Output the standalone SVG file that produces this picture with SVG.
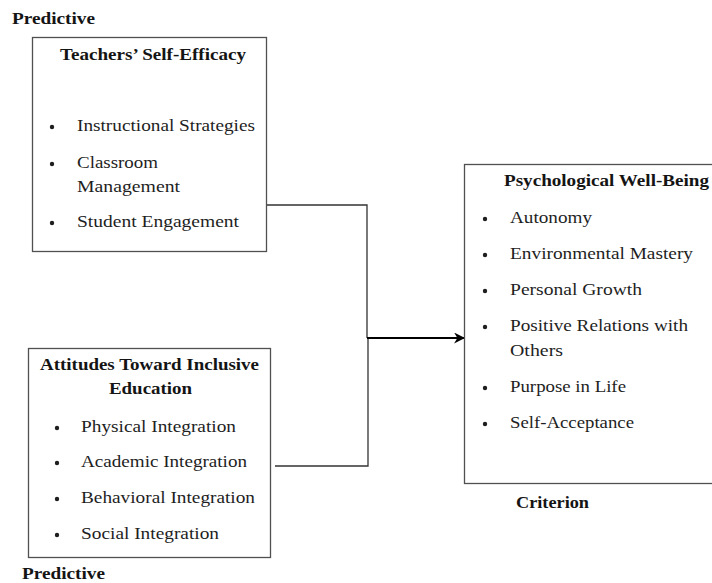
<svg xmlns="http://www.w3.org/2000/svg" width="712" height="583" viewBox="0 0 712 583">
  <style>
    .box { fill: #ffffff; stroke: #505050; stroke-width: 1.3; }
    .t { font-family: "Liberation Serif", "DejaVu Serif", serif; font-size: 17px; fill: #1e1e1e; }
    .b { font-family: "Liberation Serif", "DejaVu Serif", serif; font-size: 17px; font-weight: bold; fill: #141414; }
    .dot { fill: #1e1e1e; }
    .wire { fill: none; stroke: #333333; stroke-width: 1.3; }
    .main { fill: none; stroke: #000000; stroke-width: 2.2; }
  </style>
  <defs>
    <marker id="arrow" viewBox="0 0 10 10" refX="9" refY="5" markerWidth="5" markerHeight="5" orient="auto" markerUnits="strokeWidth">
      <path d="M0,0 L10,5 L0,10 L3,5 Z" fill="#000000"/>
    </marker>
  </defs>
  <rect width="712" height="583" fill="#ffffff"/>

  <!-- role labels -->
  <text class="b" x="12" y="24" textLength="83" lengthAdjust="spacingAndGlyphs">Predictive</text>
  <text class="b" x="22" y="579" textLength="83" lengthAdjust="spacingAndGlyphs">Predictive</text>
  <text class="b" x="516" y="508" textLength="73" lengthAdjust="spacingAndGlyphs">Criterion</text>

  <!-- connectors -->
  <g id="connectors">
    <polyline class="wire" points="267,205 367,205 367,338"/>
    <polyline class="wire" points="275,466 368,466 368,338"/>
    <line class="main" x1="367" y1="338" x2="464" y2="338" marker-end="url(#arrow)"/>
  </g>

  <!-- Teachers' Self-Efficacy -->
  <g id="self-efficacy">
    <rect class="box" x="32.5" y="37.5" width="234" height="214"/>
    <text class="b" x="60" y="60" textLength="186" lengthAdjust="spacingAndGlyphs">Teachers’ Self-Efficacy</text>
    <circle class="dot" cx="52" cy="127" r="2.2"/>
    <text class="t" x="77" y="131" textLength="178" lengthAdjust="spacingAndGlyphs">Instructional Strategies</text>
    <circle class="dot" cx="52" cy="164" r="2.2"/>
    <text class="t" x="77" y="168" textLength="81" lengthAdjust="spacingAndGlyphs">Classroom</text>
    <text class="t" x="77" y="192" textLength="103" lengthAdjust="spacingAndGlyphs">Management</text>
    <circle class="dot" cx="52" cy="223" r="2.2"/>
    <text class="t" x="77" y="227" textLength="162" lengthAdjust="spacingAndGlyphs">Student Engagement</text>
  </g>

  <!-- Attitudes Toward Inclusive Education -->
  <g id="attitudes">
    <rect class="box" x="28.5" y="348.5" width="242" height="209"/>
    <text class="b" x="40" y="370" textLength="219" lengthAdjust="spacingAndGlyphs">Attitudes Toward Inclusive</text>
    <text class="b" x="109" y="394" textLength="83" lengthAdjust="spacingAndGlyphs">Education</text>
    <circle class="dot" cx="57" cy="428" r="2.2"/>
    <text class="t" x="81" y="432" textLength="155" lengthAdjust="spacingAndGlyphs">Physical Integration</text>
    <circle class="dot" cx="57" cy="463" r="2.2"/>
    <text class="t" x="81" y="467" textLength="166" lengthAdjust="spacingAndGlyphs">Academic Integration</text>
    <circle class="dot" cx="57" cy="499" r="2.2"/>
    <text class="t" x="81" y="503" textLength="174" lengthAdjust="spacingAndGlyphs">Behavioral Integration</text>
    <circle class="dot" cx="57" cy="535" r="2.2"/>
    <text class="t" x="81" y="539" textLength="138" lengthAdjust="spacingAndGlyphs">Social Integration</text>
  </g>

  <!-- Psychological Well-Being -->
  <g id="well-being">
    <rect class="box" x="464.5" y="164.5" width="260" height="319"/>
    <text class="b" x="504" y="186" textLength="205" lengthAdjust="spacingAndGlyphs">Psychological Well-Being</text>
    <circle class="dot" cx="485" cy="219" r="2.2"/>
    <text class="t" x="510" y="223" textLength="82" lengthAdjust="spacingAndGlyphs">Autonomy</text>
    <circle class="dot" cx="485" cy="255" r="2.2"/>
    <text class="t" x="510" y="259" textLength="183" lengthAdjust="spacingAndGlyphs">Environmental Mastery</text>
    <circle class="dot" cx="485" cy="291" r="2.2"/>
    <text class="t" x="510" y="295" textLength="132" lengthAdjust="spacingAndGlyphs">Personal Growth</text>
    <circle class="dot" cx="485" cy="327" r="2.2"/>
    <text class="t" x="510" y="331" textLength="178" lengthAdjust="spacingAndGlyphs">Positive Relations with</text>
    <text class="t" x="510" y="356" textLength="53" lengthAdjust="spacingAndGlyphs">Others</text>
    <circle class="dot" cx="485" cy="388" r="2.2"/>
    <text class="t" x="510" y="392" textLength="116" lengthAdjust="spacingAndGlyphs">Purpose in Life</text>
    <circle class="dot" cx="485" cy="424" r="2.2"/>
    <text class="t" x="510" y="428" textLength="124" lengthAdjust="spacingAndGlyphs">Self-Acceptance</text>
  </g>
</svg>
